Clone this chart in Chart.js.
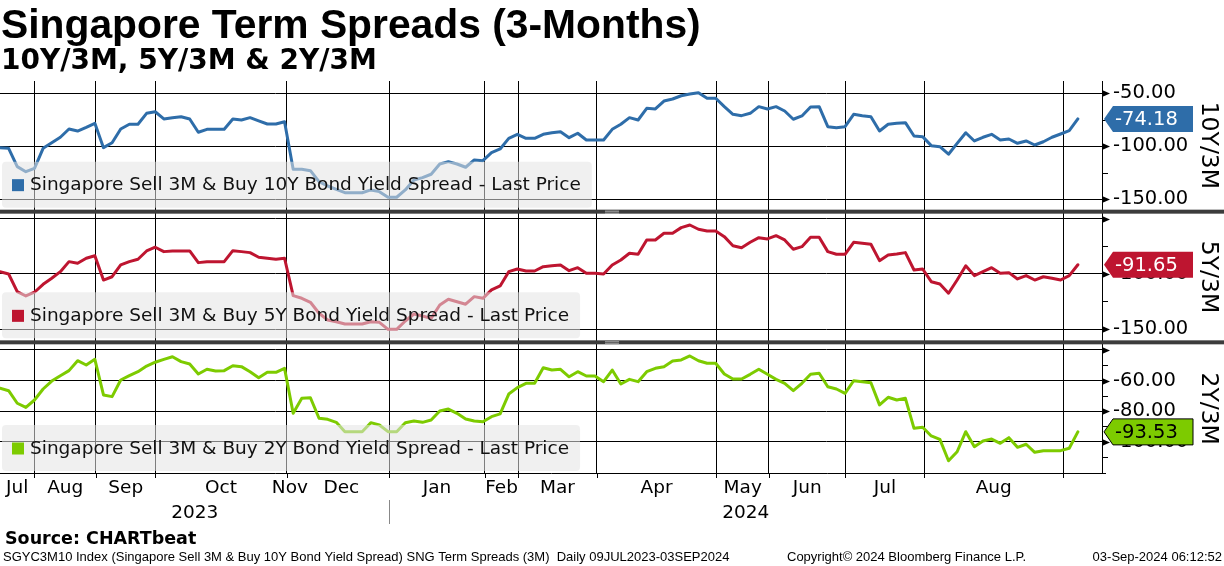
<!DOCTYPE html>
<html lang="en">
<head>
<meta charset="UTF-8">
<title>Singapore Term Spreads (3-Months)</title>
<style>
  body { margin: 0; background: #fff; }
  #wrap { width: 1224px; height: 566px; }
</style>
</head>
<body>
<div id="wrap"><canvas id="chart" width="1224" height="566"></canvas></div>
<script src="https://cdn.jsdelivr.net/npm/chart.js@4"></script>
<script>
var spread10Y = [
  -101.3, -101.9, -119.2, -124.0, -120.8, -101.9, -96.6, -91.5, -83.7, -85.6,
  -82.1, -78.3, -101.3, -96.6, -83.7, -79.2, -79.2, -68.9, -67.4, -74.2,
  -73.0, -72.1, -74.2, -86.8, -84.0, -84.0, -84.0, -74.2, -75.2, -73.0,
  -76.1, -79.0, -79.0, -76.8, -121.7, -121.7, -123.0, -133.4, -137.5, -140.6,
  -143.8, -143.8, -143.8, -141.2, -142.8, -148.1, -148.1, -141.2, -131.8, -129.6,
  -126.4, -116.7, -114.5, -116.7, -119.8, -112.9, -113.6, -106.0, -102.5, -92.5,
  -88.7, -92.5, -92.5, -88.7, -87.2, -86.2, -91.9, -87.7, -94.1, -94.1,
  -94.1, -84.0, -79.2, -73.0, -75.2, -64.2, -64.8, -57.3, -55.4, -52.3,
  -50.7, -49.4, -54.7, -54.7, -62.6, -69.8, -71.1, -68.9, -62.6, -64.8,
  -62.6, -66.7, -74.5, -71.4, -62.9, -62.6, -81.5, -82.5, -81.5, -69.8,
  -71.1, -72.1, -85.6, -79.2, -78.3, -77.7, -90.3, -90.9, -99.4, -100.4,
  -107.5, -97.2, -87.2, -95.0, -91.5, -88.7, -94.1, -93.1, -97.2, -95.0,
  -98.8, -95.7, -91.5, -88.4, -85.3, -74.18
];
var spread5Y = [
  -97.9, -100.0, -116.1, -120.0, -116.6, -109.4, -103.9, -97.9, -88.8, -90.3,
  -85.7, -83.4, -105.5, -102.5, -91.8, -88.8, -86.6, -79.1, -75.7, -79.7,
  -79.1, -79.1, -79.1, -89.7, -88.8, -88.8, -88.8, -78.8, -79.7, -80.6,
  -84.8, -85.7, -86.6, -85.7, -119.7, -122.1, -125.7, -135.7, -141.8, -143.4,
  -145.5, -145.5, -145.5, -143.4, -143.9, -150.3, -150.3, -142.7, -136.4, -138.2,
  -140.3, -128.2, -123.0, -125.2, -127.5, -120.6, -122.1, -114.5, -110.9, -97.9,
  -95.5, -97.3, -97.3, -93.4, -92.5, -91.8, -97.0, -94.3, -99.4, -99.4,
  -100.0, -91.8, -87.3, -81.2, -82.1, -69.1, -69.1, -63.0, -63.0, -57.9,
  -55.5, -59.4, -60.9, -60.9, -66.1, -74.3, -76.1, -71.2, -67.0, -68.2,
  -65.2, -69.1, -77.5, -75.2, -66.6, -66.6, -79.7, -82.1, -82.1, -71.2,
  -72.1, -73.0, -87.9, -82.7, -81.8, -80.6, -96.4, -95.5, -107.0, -109.1,
  -117.5, -105.5, -92.5, -101.5, -97.9, -94.3, -99.4, -98.8, -104.5, -101.5,
  -105.5, -102.5, -103.9, -105.5, -101.5, -91.65
];
var spread2Y = [
  -65.0, -66.6, -74.8, -77.5, -72.7, -65.5, -60.3, -56.8, -53.5, -47.0,
  -49.8, -46.1, -69.4, -70.5, -59.6, -56.8, -54.2, -50.5, -48.0, -46.1,
  -44.4, -47.6, -49.2, -55.7, -52.6, -53.7, -53.5, -50.3, -50.9, -54.2,
  -58.1, -54.6, -54.6, -52.0, -81.4, -71.6, -71.2, -84.6, -85.3, -87.3,
  -93.4, -93.4, -93.4, -87.5, -89.0, -93.4, -93.4, -87.5, -86.4, -87.3,
  -85.8, -79.9, -78.6, -81.4, -85.1, -86.4, -86.9, -83.6, -81.8, -68.8,
  -64.6, -61.8, -61.8, -51.6, -53.1, -52.6, -57.5, -54.2, -57.0, -57.0,
  -60.7, -53.1, -62.2, -59.2, -60.7, -54.2, -52.0, -50.9, -47.2, -46.5,
  -43.9, -47.0, -48.7, -48.7, -55.7, -59.0, -59.0, -55.9, -52.6, -55.9,
  -59.2, -61.8, -66.6, -61.8, -55.9, -55.2, -64.0, -65.5, -68.3, -60.1,
  -60.7, -61.4, -75.9, -70.9, -72.7, -71.6, -91.2, -90.5, -96.2, -98.4,
  -112.4, -106.5, -93.4, -103.2, -99.5, -98.2, -101.0, -97.3, -103.6, -101.6,
  -106.9, -105.8, -105.8, -105.8, -104.2, -93.53
];

var seriesNames = [
  "Singapore Sell 3M & Buy 10Y Bond Yield Spread - Last Price",
  "Singapore Sell 3M & Buy 5Y Bond Yield Spread - Last Price",
  "Singapore Sell 3M & Buy 2Y Bond Yield Spread - Last Price"
];
var panelNames = ["10Y/3M", "5Y/3M", "2Y/3M"];

// right-axis ticks per panel
var ticks10Y = [-50, -100, -150];
var ticks5Y = [-50, -100, -150];
var ticks2Y = [-40, -60, -80, -100];
var minor10Y = [-75, -125];
var minor5Y = [-75, -125];
var minor2Y = [-50, -70, -90, -110];

// time axis, in observation index units
var monthNames = ["Jul", "Aug", "Sep", "Oct", "Nov", "Dec", "Jan", "Feb", "Mar", "Apr", "May", "Jun", "Jul", "Aug"];
var monthStarts = [0, 4.0, 11.13, 18.03, 33.23, 34.0, 45.17, 56.19, 60.13, 69.18, 83.09, 89.18, 98.05, 107.21, 123.28];
var gridTicks = [4.0, 11.13, 18.03, 33.23, 45.17, 56.19, 60.13, 69.18, 83.09, 89.18, 98.05, 107.21, 123.28];
var yearNames = ["2023", "2024"];
var yearStarts = [0, 45.17];

var colors = ["#2e6da9", "#be1530", "#7dcb00"];
var FONT = "'DejaVu Sans', sans-serif";
var X_MAX = 127.8;

function toPoints(arr) {
  return arr.map(function (v, i) { return { x: i, y: v }; });
}

function yScale(major, min, max) {
  return {
    type: "linear",
    position: "right",
    stack: "panels",
    stackWeight: 1,
    min: min,
    max: max,
    afterBuildTicks: function (s) {
      s.ticks = major.map(function (v) { return { value: v }; });
    },
    afterFit: function (s) { s.width = 122; },
    grid: { color: "#000", lineWidth: 1, drawTicks: false },
    border: { color: "#000", width: 1 },
    ticks: {
      padding: 11,
      color: "#000",
      font: { family: FONT, size: 19.5 },
      callback: function (v) {
        // labels hugging the top edge are left out, as in the original
        if ((this.max - v) / (this.max - this.min) < 0.06) return "";
        return v.toFixed(2);
      }
    }
  };
}

function roundRect(ctx, x, y, w, h, r) {
  ctx.beginPath();
  ctx.moveTo(x + r, y);
  ctx.lineTo(x + w - r, y);
  ctx.quadraticCurveTo(x + w, y, x + w, y + r);
  ctx.lineTo(x + w, y + h - r);
  ctx.quadraticCurveTo(x + w, y + h, x + w - r, y + h);
  ctx.lineTo(x + r, y + h);
  ctx.quadraticCurveTo(x, y + h, x, y + h - r);
  ctx.lineTo(x, y + r);
  ctx.quadraticCurveTo(x, y, x + r, y);
  ctx.closePath();
}

function panels(chart) {
  return [chart.scales.y1, chart.scales.y2, chart.scales.y3];
}

// visible bottom of a panel (the separator bar eats 2px on each side)
function panelBottom(s, i) {
  return i < 2 ? s.bottom - 2 : s.bottom;
}

var decor = {
  id: "decor",
  afterDatasetsDraw: function (chart) {
    var ctx = chart.ctx;
    ctx.save();
    ctx.font = "18.5px " + FONT;
    ctx.textBaseline = "middle";
    panels(chart).forEach(function (s, i) {
      var b = panelBottom(s, i);
      var w = ctx.measureText(seriesNames[i]).width;
      roundRect(ctx, 2, b - 48, w + 39, 46, 4);
      ctx.fillStyle = "rgba(228,228,228,0.55)";
      ctx.fill();
      ctx.fillStyle = colors[i];
      ctx.fillRect(12, b - 30.5, 12, 12);
      ctx.fillStyle = "#111";
      ctx.textAlign = "left";
      ctx.fillText(seriesNames[i], 30, b - 24);
    });
    ctx.restore();
  },
  afterDraw: function (chart) {
    var ctx = chart.ctx;
    var area = chart.chartArea;
    var xs = chart.scales.x;
    var ys = panels(chart);
    var majors = [ticks10Y, ticks5Y, ticks2Y];
    var minors = [minor10Y, minor5Y, minor2Y];
    var series = [spread10Y, spread5Y, spread2Y];
    ctx.save();

    // separator bars between panels
    for (var i = 0; i < 2; i++) {
      var yb = ys[i].bottom;
      ctx.fillStyle = "#3c3c3c";
      ctx.fillRect(0, yb - 2, chart.width, 4);
      ctx.strokeStyle = "#b4b4b4";
      ctx.lineWidth = 1;
      ctx.beginPath();
      ctx.moveTo(605, yb - 0.5); ctx.lineTo(619, yb - 0.5);
      ctx.moveTo(605, yb + 1.5); ctx.lineTo(619, yb + 1.5);
      ctx.stroke();
    }

    // right axis arrows and minor ticks
    ctx.fillStyle = "#000";
    ctx.strokeStyle = "#000";
    ys.forEach(function (s, i) {
      majors[i].forEach(function (v) {
        var y = Math.round(s.getPixelForValue(v)) + 0.5;
        ctx.beginPath();
        ctx.moveTo(area.right, y - 3.5);
        ctx.lineTo(area.right + 8, y);
        ctx.lineTo(area.right, y + 3.5);
        ctx.closePath();
        ctx.fill();
      });
      minors[i].forEach(function (v) {
        var y = Math.round(s.getPixelForValue(v)) + 0.5;
        ctx.beginPath();
        ctx.moveTo(area.right, y);
        ctx.lineTo(area.right + 6, y);
        ctx.stroke();
      });
    });

    // last value badges
    ctx.font = "19.5px " + FONT;
    ctx.textAlign = "left";
    ctx.textBaseline = "middle";
    ys.forEach(function (s, i) {
      var last = series[i][series[i].length - 1];
      var y = s.getPixelForValue(last);
      var l = area.right + 2;
      ctx.beginPath();
      ctx.moveTo(l, y);
      ctx.lineTo(l + 9, y - 13);
      ctx.lineTo(1193, y - 13);
      ctx.lineTo(1193, y + 13);
      ctx.lineTo(l + 9, y + 13);
      ctx.closePath();
      ctx.fillStyle = colors[i];
      ctx.fill();
      if (i === 2) {
        ctx.strokeStyle = "#000";
        ctx.lineWidth = 1;
        ctx.stroke();
      }
      ctx.fillStyle = i === 2 ? "#000" : "#fff";
      ctx.fillText(last.toFixed(2), area.right + 13, y + 1);
    });

    // rotated panel titles
    ctx.font = "23.5px " + FONT;
    ctx.fillStyle = "#000";
    ctx.textAlign = "center";
    ys.forEach(function (s, i) {
      var top = i > 0 ? s.top + 2 : s.top;
      var mid = (top + panelBottom(s, i)) / 2;
      ctx.save();
      ctx.translate(1208, mid);
      ctx.rotate(Math.PI / 2);
      ctx.fillText(panelNames[i], 0, 0);
      ctx.restore();
    });

    // time axis: ticks, months, years
    ctx.strokeStyle = "#000";
    ctx.lineWidth = 1;
    ctx.beginPath();
    ctx.moveTo(area.right, area.bottom + 0.5);
    ctx.lineTo(area.right + 4, area.bottom + 0.5);
    gridTicks.forEach(function (t) {
      var x = Math.round(xs.getPixelForValue(t)) + 0.5;
      ctx.moveTo(x, area.bottom);
      ctx.lineTo(x, area.bottom + 5);
    });
    ctx.stroke();

    ctx.font = "18.5px " + FONT;
    ctx.fillStyle = "#000";
    ctx.textAlign = "center";
    monthNames.forEach(function (m, i) {
      var c = (monthStarts[i] + monthStarts[i + 1]) / 2;
      ctx.fillText(m, xs.getPixelForValue(c), area.bottom + 15);
    });
    yearNames.forEach(function (yname, i) {
      var end = i + 1 < yearStarts.length ? yearStarts[i + 1] : X_MAX;
      var c = (yearStarts[i] + end) / 2;
      ctx.fillText(yname, xs.getPixelForValue(c), area.bottom + 40);
    });
    ctx.strokeStyle = "#888";
    ctx.beginPath();
    var sx = Math.round(xs.getPixelForValue(yearStarts[1])) + 0.5;
    ctx.moveTo(sx, area.bottom + 27);
    ctx.lineTo(sx, area.bottom + 51);
    ctx.stroke();

    // titles
    ctx.textAlign = "left";
    ctx.textBaseline = "alphabetic";
    ctx.fillStyle = "#000";
    ctx.font = "bold 40.8px 'Liberation Sans', sans-serif";
    ctx.fillText("Singapore Term Spreads (3-Months)", 1, 38);
    ctx.font = "bold 28px " + FONT;
    ctx.fillText("10Y/3M, 5Y/3M & 2Y/3M", 1, 69);

    // footer
    ctx.font = "bold 17.5px " + FONT;
    ctx.fillText("Source: CHARTbeat", 5, 544);
    ctx.font = "13px 'Liberation Sans', sans-serif";
    ctx.fillText("SGYC3M10 Index (Singapore Sell 3M & Buy 10Y Bond Yield Spread) SNG Term Spreads (3M)  Daily 09JUL2023-03SEP2024", 3, 561);
    ctx.fillText("Copyright\u00a9 2024 Bloomberg Finance L.P.", 787, 561);
    ctx.textAlign = "right";
    ctx.fillText("03-Sep-2024 06:12:52", 1222, 561);
    ctx.restore();
  }
};

var chart = new Chart(document.getElementById("chart"), {
  type: "line",
  data: {
    datasets: [
      { label: seriesNames[0], data: toPoints(spread10Y), yAxisID: "y1", borderColor: colors[0] },
      { label: seriesNames[1], data: toPoints(spread5Y), yAxisID: "y2", borderColor: colors[1] },
      { label: seriesNames[2], data: toPoints(spread2Y), yAxisID: "y3", borderColor: colors[2] }
    ]
  },
  options: {
    responsive: false,
    animation: false,
    layout: { padding: { top: 81, left: 0, right: 0, bottom: 0 } },
    elements: {
      point: { radius: 0 },
      line: { borderWidth: 3, tension: 0, borderJoinStyle: "round", borderCapStyle: "round" }
    },
    plugins: { legend: { display: false }, tooltip: { enabled: false }, title: { display: false } },
    scales: {
      x: {
        type: "linear",
        min: 0,
        max: X_MAX,
        afterBuildTicks: function (s) {
          s.ticks = gridTicks.map(function (v) { return { value: v }; });
        },
        afterFit: function (s) { s.height = 93; },
        ticks: { display: false },
        grid: { color: "#000", lineWidth: 1, drawTicks: false },
        border: { color: "#000", width: 1 }
      },
      y1: yScale(ticks10Y, -161.7, -38.4),
      y2: yScale(ticks5Y, -162.1, -43.4),
      y3: yScale(ticks2Y, -120.4, -35.0)
    }
  },
  plugins: [decor]
});
</script>
</body>
</html>
